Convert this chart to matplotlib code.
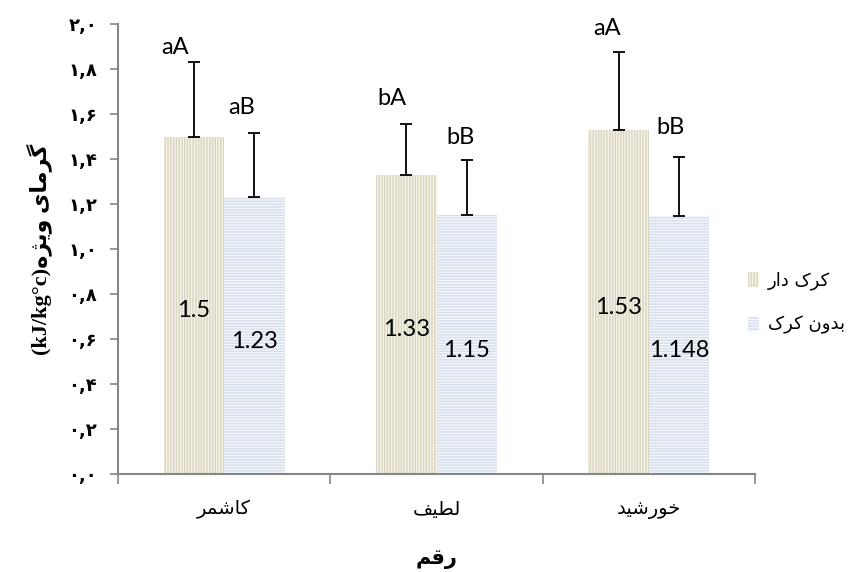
import matplotlib
matplotlib.use('Agg')
import matplotlib.pyplot as plt
import numpy as np

# data
varieties = ['کاشمر', 'لطیف', 'خورشید']
with_fuzz = [1.5, 1.33, 1.53]
without_fuzz = [1.23, 1.15, 1.148]
with_err = [0.33, 0.226, 0.346]
without_err = [0.285, 0.246, 0.261]
with_letters = ['aA', 'bA', 'aA']
without_letters = ['aB', 'bB', 'bB']
series_names = ['کرک دار', 'بدون کرک']
y_ticks = [0.0, 0.2, 0.4, 0.6, 0.8, 1.0, 1.2, 1.4, 1.6, 1.8, 2.0]

# where the significance letters sit (data units)
with_letter_y = [1.897, 1.67, 1.978]
without_letter_y = [1.63, 1.495, 1.538]
with_letter_dx = [-0.09, -0.066, -0.054]
without_letter_dx = [-0.06, -0.03, -0.042]

# minimal arabic/persian shaping: isolated, final, initial, medial
DUAL = {
    'ب': (0xFE8F, 0xFE90, 0xFE91, 0xFE92),
    'خ': (0xFEA5, 0xFEA6, 0xFEA7, 0xFEA8),
    'س': (0xFEB1, 0xFEB2, 0xFEB3, 0xFEB4),
    'ش': (0xFEB5, 0xFEB6, 0xFEB7, 0xFEB8),
    'ط': (0xFEC1, 0xFEC2, 0xFEC3, 0xFEC4),
    'ف': (0xFED1, 0xFED2, 0xFED3, 0xFED4),
    'ق': (0xFED5, 0xFED6, 0xFED7, 0xFED8),
    'ل': (0xFEDD, 0xFEDE, 0xFEDF, 0xFEE0),
    'م': (0xFEE1, 0xFEE2, 0xFEE3, 0xFEE4),
    'ن': (0xFEE5, 0xFEE6, 0xFEE7, 0xFEE8),
    'ه': (0xFEE9, 0xFEEA, 0xFEEB, 0xFEEC),
    'ک': (0xFB8E, 0xFB8F, 0xFB90, 0xFB91),
    'گ': (0xFB92, 0xFB93, 0xFB94, 0xFB95),
    'ی': (0xFBFC, 0xFBFD, 0xFBFE, 0xFBFF),
}
RIGHT = {
    'ا': (0xFE8D, 0xFE8E),
    'د': (0xFEA9, 0xFEAA),
    'ر': (0xFEAD, 0xFEAE),
    'ژ': (0xFB8A, 0xFB8B),
    'و': (0xFEED, 0xFEEE),
}


def shape(text):
    out = []
    for i, ch in enumerate(text):
        prev = text[i - 1] if i > 0 else ''
        nxt = text[i + 1] if i < len(text) - 1 else ''
        join_prev = prev in DUAL
        if ch in DUAL:
            join_next = nxt in DUAL or nxt in RIGHT
            if join_prev:
                idx = 3 if join_next else 1
            else:
                idx = 2 if join_next else 0
            out.append(chr(DUAL[ch][idx]))
        elif ch in RIGHT:
            out.append(chr(RIGHT[ch][1 if join_prev else 0]))
        else:
            out.append(ch)
    return ''.join(reversed(out))


def persian_num(v):
    digits = '۰۱۲۳۴۵۶۷۸۹'
    return ''.join(digits[int(c)] if c.isdigit() else ',' for c in f'{v:.1f}')


plt.rcParams['hatch.linewidth'] = 1.1
latin = ['Lato', 'DejaVu Sans']
arabic = ['DejaVu Sans']
grey = '#868686'

fig = plt.figure(figsize=(8.6, 5.72), dpi=100)
ax = fig.add_axes([118 / 860, 1 - 474 / 572, 637 / 860, 450 / 572])

x = np.arange(len(varieties)) + 0.5
w = 0.285
b1 = ax.bar(x - w / 2, with_fuzz, w, facecolor='#F6F5EF', edgecolor='#D9D5BE',
            hatch='||||||', linewidth=0, label=shape(series_names[0]))
b2 = ax.bar(x + w / 2, without_fuzz, w, facecolor='#F6F8FB', edgecolor='#D6E0EC',
            hatch='------', linewidth=0, label=shape(series_names[1]))

zeros = np.zeros(len(varieties))
ax.errorbar(x - w / 2, with_fuzz, yerr=[zeros, with_err], fmt='none',
            ecolor='black', elinewidth=1.3, capsize=4.3, capthick=1.3)
ax.errorbar(x + w / 2, without_fuzz, yerr=[zeros, without_err], fmt='none',
            ecolor='black', elinewidth=1.3, capsize=4.3, capthick=1.3)

for xi, v in zip(x - w / 2, with_fuzz):
    ax.annotate(f'{v:g}', (xi, v / 2), xytext=(0, -4), textcoords='offset points',
                ha='center', va='center', fontsize=17, family=latin)
for xi, v in zip(x + w / 2, without_fuzz):
    ax.annotate(f'{v:g}', (xi, v / 2), xytext=(0, -4), textcoords='offset points',
                ha='center', va='center', fontsize=17, family=latin)

for xi, dx, yy, t in zip(x - w / 2, with_letter_dx, with_letter_y, with_letters):
    ax.text(xi + dx, yy, t, ha='center', va='center', fontsize=17, family=latin)
for xi, dx, yy, t in zip(x + w / 2, without_letter_dx, without_letter_y, without_letters):
    ax.text(xi + dx, yy, t, ha='center', va='center', fontsize=17, family=latin)

ax.set_xlim(0, len(varieties))
ax.set_ylim(0, 2.0)

ax.set_yticks(y_ticks)
ax.set_yticklabels([persian_num(t) for t in y_ticks], family=arabic,
                   fontsize=13, fontweight='bold')
ax.tick_params(axis='y', length=6, width=1.2, color=grey, pad=9)

ax.set_xticks(x)
ax.set_xticklabels([shape(v) for v in varieties], family=arabic, fontsize=14)
ax.set_xticks(np.arange(len(varieties) + 1), minor=True)
ax.tick_params(axis='x', which='major', length=0, pad=19)
ax.tick_params(axis='x', which='minor', length=7, width=1.2, color=grey)

for side in ['top', 'right']:
    ax.spines[side].set_visible(False)
for side in ['left', 'bottom']:
    ax.spines[side].set_color(grey)
    ax.spines[side].set_linewidth(1.5)

ax.set_xlabel(shape('رقم'), family=arabic, fontsize=15, fontweight='bold', labelpad=21)
ax.set_ylabel('(kJ/kg°c)' + shape('گرمای ویژه'), family=['Liberation Serif', 'DejaVu Sans'],
              fontsize=16, fontweight='bold', labelpad=12)

fig.legend(handles=[b1, b2], loc='center left', bbox_to_anchor=(748 / 860, 1 - 303 / 572),
           frameon=False, prop={'family': arabic, 'size': 13}, borderpad=0, borderaxespad=0,
           handlelength=0.6, handleheight=0.9, handletextpad=0.5, labelspacing=1.4)

fig.savefig('out.png', dpi=100)
